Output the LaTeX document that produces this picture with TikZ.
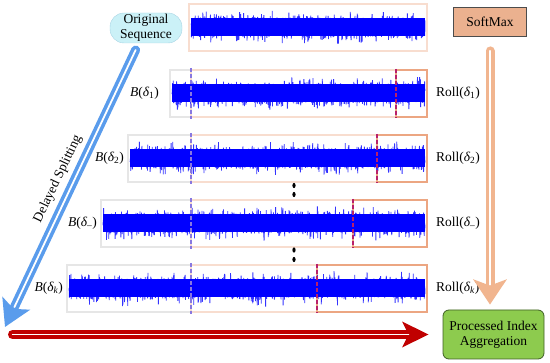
\documentclass[tikz,border=0pt]{standalone}
\usepackage{fontspec}
\setmainfont{Liberation Serif}
\usetikzlibrary{positioning,arrows.meta}
\definecolor{SigBlue}{HTML}{0000FF}
\definecolor{PaleEdge}{HTML}{F8DDCF}
\definecolor{GreyEdge}{HTML}{E6E6E6}
\definecolor{RollEdge}{HTML}{ECA682}
\definecolor{StartDash}{HTML}{8878E0}
\definecolor{CutDash}{HTML}{B8206A}
\definecolor{SeqFill}{HTML}{CBF1F7}
\definecolor{SeqEdge}{HTML}{A8D4E4}
\definecolor{SoftFill}{HTML}{EBB18F}
\definecolor{AggFill}{HTML}{8DCB4E}
\definecolor{AggEdge}{HTML}{3F5F25}
\definecolor{SplitBlue}{HTML}{5A9CEC}
\definecolor{FlowRed}{HTML}{C00000}
\definecolor{SoftArrow}{HTML}{F1B58F}

\begin{document}
\begin{tikzpicture}[x=1pt,y=-1pt,every node/.style={font=\fontsize{13.5}{15}\selectfont,inner sep=2pt}]
\tikzstyle{sig}=[draw=SigBlue!80,line width=0.8pt,line join=bevel]
\tikzstyle{band}=[fill=SigBlue]
\tikzstyle{seqbox}=[draw=SeqEdge,fill=SeqFill,rounded corners=14pt,minimum width=72pt,minimum height=30pt,align=center,inner sep=0pt]
\tikzstyle{softbox}=[draw=black!70,fill=SoftFill,minimum width=73pt,minimum height=29pt,line width=0.8pt]
\tikzstyle{aggbox}=[draw=AggEdge,fill=AggFill,rounded corners=6pt,minimum width=101pt,minimum height=49pt,align=center,line width=0.8pt]
\tikzstyle{flow}=[line width=9pt,line cap=round]
\tikzstyle{core}=[draw=white,line width=1.8pt,-]
\useasboundingbox (0,0) rectangle (550,363);
\pgfmathsetseed{11}

% original sequence strip
\draw[PaleEdge,line width=1.5pt] (189,4) rectangle (427,51);
\draw[sig] plot[domain=191:425,samples=1170] (\x,{27.5+6.3*(rand+rand+rand)});
\fill[band] (191,18.5) rectangle (425,36.5);

% delayed strips
\foreach \l/\t/\m/\bx/\s in {170/70/396/161/1,128/135/377/126/2,101/200/353/99/–,67/265/317/65/{\itshape k}}{
  \draw[GreyEdge,line width=1.3pt] (\l,\t) rectangle (191,\t+47);
  \draw[PaleEdge,line width=1.5pt] (191,\t) rectangle (\m,\t+47);
  \draw[RollEdge,line width=1.6pt] (\m,\t) rectangle (427,\t+47);
  \pgfmathtruncatemacro\ns{(425-\l)*5}
  \draw[sig] plot[domain=\l+2:425,samples=\ns] (\x,{\t+23.5+6.3*(rand+rand+rand)});
  \fill[band] (\l+2,\t+14.5) rectangle (425,\t+32.5);
  \draw[StartDash,line width=1.2pt,dash pattern=on 4pt off 2pt] (191,\t-2) -- (191,\t+49);
  \draw[CutDash,line width=1.3pt,dash pattern=on 4pt off 2pt] (\m,\t-1) -- (\m,\t+48);
  \node[anchor=east] (b\t) at (\bx,\t+23.5) {{\itshape B}({\itshape δ}\textsubscript{\s})};
  \node[anchor=west] (roll\t) at (434,\t+23) {Roll({\itshape δ}\textsubscript{\s})};
}

% vertical ellipses
\fill (294,185.5) ellipse [x radius=1.6pt,y radius=2.6pt];
\fill (294,194.5) ellipse [x radius=1.6pt,y radius=2.6pt];
\fill (294,250) ellipse [x radius=1.6pt,y radius=2.6pt];
\fill (294,259.5) ellipse [x radius=1.6pt,y radius=2.6pt];

\node[seqbox] (seq) at (146,28) {Original\\Sequence};
\node[softbox] (soft) at (490,21.5) {SoftMax};
\node[aggbox] (agg) at (493.5,334.5) {Processed Index\\Aggregation};
\coordinate (splitend) at (5,327);
\coordinate (flowstart) at (12.5,334.5);

\draw[flow,SplitBlue,shorten <=7.5pt,-{Stealth[length=26pt,width=30pt,inset=6pt]},postaction={core,shorten >=22pt}] (seq) -- (splitend);
\draw[flow,FlowRed,shorten >=14pt,-{Stealth[length=26pt,width=25pt,inset=6pt]},postaction={core,line width=1.5pt,shorten >=34pt}] (flowstart) -- (agg);
\draw[flow,SoftArrow,shorten <=14.5pt,shorten >=5pt,-{Stealth[length=25pt,width=33pt,inset=6pt]},postaction={core,shorten >=25pt}] (soft) -- (soft |- agg.north);

\node[rotate=64.5] (splitlab) at (58,179) {Delayed Splitting};
\end{tikzpicture}
\end{document}
